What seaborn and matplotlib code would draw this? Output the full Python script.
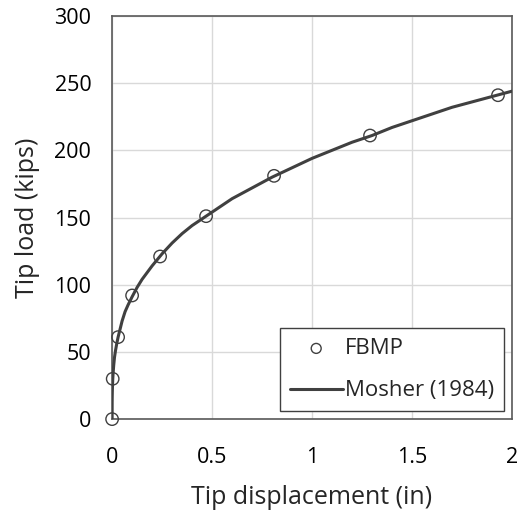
import matplotlib
matplotlib.use("Agg")
import matplotlib.pyplot as plt
import seaborn as sns
import pandas as pd

# FBMP data points
fbmp_disp = [0.0, 0.003, 0.03, 0.10, 0.24, 0.47, 0.81, 1.29, 1.93]
fbmp_load = [0, 30, 61, 92, 121, 151, 181, 211, 241]

# Mosher (1984) curve
mosher_disp = [0.0, 0.0002, 0.0005, 0.001, 0.002, 0.003, 0.005, 0.008, 0.012, 0.017, 0.023,
               0.03, 0.04, 0.05, 0.065, 0.08, 0.1, 0.125, 0.15, 0.175, 0.2, 0.25, 0.3,
               0.35, 0.4, 0.45, 0.5, 0.6, 0.7, 0.8, 0.9, 1.0, 1.1, 1.2, 1.3, 1.4,
               1.5, 1.6, 1.7, 1.8, 1.9, 2.0]
mosher_load = [0, 12, 16, 20, 25, 29, 34, 40, 46, 51, 56,
               61, 67, 73, 80, 85, 91, 98, 104, 109, 114, 123, 131,
               138, 144, 149, 154, 164, 172, 180, 187, 194, 200, 206, 211, 217,
               222, 227, 232, 236, 240, 244]

x_ticks = [0, 0.5, 1, 1.5, 2]
x_tick_labels = ["0", "0.5", "1", "1.5", "2"]
y_ticks = [0, 50, 100, 150, 200, 250, 300]

sns.set_style("whitegrid")
plt.rcParams['font.family'] = ['Open Sans', 'DejaVu Sans']

fig = plt.figure(figsize=(5.19, 5.13), dpi=100)
ax = fig.add_axes([0.216, 0.183, 0.7705, 0.786])

df_f = pd.DataFrame({"x": fbmp_disp, "y": fbmp_load})
df_m = pd.DataFrame({"x": mosher_disp, "y": mosher_load})

sns.lineplot(data=df_m, x="x", y="y", ax=ax, color="#404040", linewidth=2.2,
             label="Mosher (1984)", zorder=3, sort=False)
sns.scatterplot(data=df_f, x="x", y="y", ax=ax, marker="o", s=80,
                facecolors="none", edgecolor="#404040", linewidth=1.0,
                label="FBMP", zorder=4, clip_on=False)

ax.set_xlim(0, 2)
ax.set_ylim(0, 300)
ax.set_xticks(x_ticks)
ax.set_xticklabels(x_tick_labels)
ax.set_yticks(y_ticks)
ax.grid(True, color="#d9d9d9", linewidth=1.0)
for s in ax.spines.values():
    s.set_color("#595959")
    s.set_linewidth(1.2)
    s.set_visible(True)
ax.tick_params(axis="both", labelsize=15.5, length=0, colors="black")
ax.tick_params(axis="x", pad=20)
ax.tick_params(axis="y", pad=15)
ax.set_xlabel("Tip displacement (in)", fontsize=18, labelpad=12)
ax.set_ylabel("Tip load (kips)", fontsize=18, labelpad=10)

handles, labels = ax.get_legend_handles_labels()
order = [labels.index("FBMP"), labels.index("Mosher (1984)")]
leg = ax.legend([handles[i] for i in order], [labels[i] for i in order],
                loc="lower right", fontsize=16, frameon=True, fancybox=False,
                edgecolor="#404040", framealpha=1, borderaxespad=0.35,
                handlelength=2.4, handletextpad=0.1, borderpad=0.45,
                labelspacing=0.95, markerscale=0.8)
leg.get_frame().set_linewidth(1.0)

fig.savefig("out.png", dpi=100)
